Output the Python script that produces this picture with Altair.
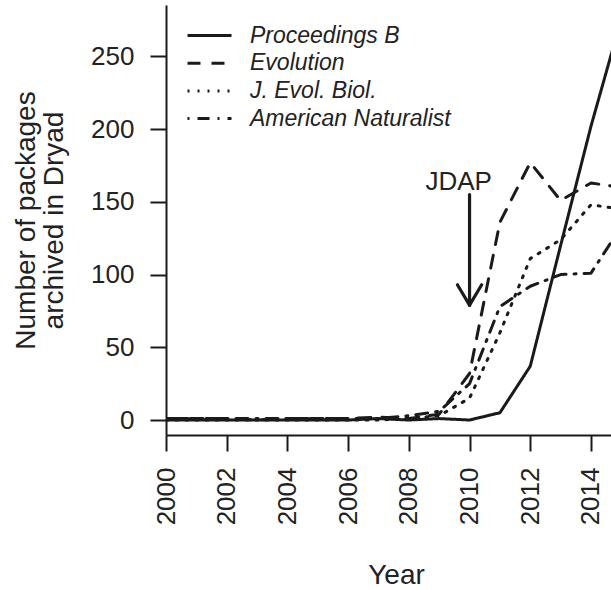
import altair as alt
import pandas as pd

years = list(range(2000, 2016))
journals = ["Proceedings B", "Evolution", "J. Evol. Biol.", "American Naturalist"]
proc_b = [0, 0, 0, 0, 0, 0, 0, 1, 0, 1, 0, 5, 37, 120, 202, 276]
evolution = [1, 1, 1, 0, 1, 1, 1, 2, 1, 4, 32, 136, 177, 151, 163, 160]
jeb = [0, 0, 0, 0, 0, 0, 0, 0, 1, 3, 15, 60, 111, 124, 148, 145]
amnat = [1, 1, 1, 1, 1, 1, 1, 1, 3, 6, 25, 78, 92, 100, 101, 133]
x_ticks = list(range(2000, 2015, 2))
y_ticks = [0, 50, 100, 150, 200, 250]

# annotation (JDAP arrow) in data units
jdap_year = 2010
jdap_text_x = [2009.64]
jdap_text_y = [158]
arrow_top = 155
arrow_tip = 79
head_y = 93
head_dx = 0.4

series = {"Proceedings B": proc_b, "Evolution": evolution,
          "J. Evol. Biol.": jeb, "American Naturalist": amnat}
rows = []
for j in journals:
    for yr, v in zip(years, series[j]):
        rows.append({"year": yr, "count": v, "journal": j})
df = pd.DataFrame(rows)

FONT = "Liberation Sans"
INK = "#1a1a1a"
xscale = alt.Scale(domain=[2000, 2014.66], nice=False, zero=False)
yscale = alt.Scale(domain=[-10.3, 285.4], nice=False, zero=False)

lines = alt.Chart(df).mark_line(
    color=INK, strokeWidth=3, strokeCap="round", strokeJoin="round", clip=True
).encode(
    x=alt.X("year:Q", scale=xscale,
            axis=alt.Axis(values=x_ticks, format="d", labelAngle=270, tickSize=16,
                          labelPadding=16, title="Year", titleX=230, titleY=148,
                          titleBaseline="alphabetic", titleAlign="center")),
    y=alt.Y("count:Q", scale=yscale,
            axis=alt.Axis(values=y_ticks, tickSize=16, labelPadding=16,
                          title=["Number of packages", "archived in Dryad"],
                          titleX=-132, titleY=215, titleAngle=270,
                          titleAlign="center", titleBaseline="alphabetic",
                          titleLineHeight=28)),
    strokeDash=alt.StrokeDash(
        "journal:N",
        scale=alt.Scale(domain=journals,
                        range=[[1, 0], [13, 11], [2, 8], [2, 8, 12, 8]]),
        legend=alt.Legend(title=None, orient="none", legendX=20, legendY=18,
                          symbolType="M-1,0H3", symbolSize=484,
                          symbolStrokeWidth=3, symbolStrokeColor=INK,
                          labelFontSize=23, labelFontStyle="italic", labelFont=FONT,
                          labelColor="#222222", labelOffset=39, rowPadding=2.7,
                          labelLimit=0, padding=0),
    ),
    order="journal:N",
)

shaft = pd.DataFrame({"x": [jdap_year], "x2": [jdap_year], "y": [arrow_top], "y2": [arrow_tip]})
head = pd.DataFrame({"x": [jdap_year - head_dx, jdap_year + head_dx],
                     "x2": [jdap_year, jdap_year],
                     "y": [head_y, head_y], "y2": [arrow_tip, arrow_tip]})
arrow_df = pd.concat([shaft, head])
arrow = alt.Chart(arrow_df).mark_rule(color=INK, strokeWidth=3.2, strokeCap="round").encode(
    x=alt.X("x:Q", scale=xscale), x2="x2:Q",
    y=alt.Y("y:Q", scale=yscale), y2="y2:Q")

label_df = pd.DataFrame({"x": jdap_text_x, "y": jdap_text_y, "t": ["JDAP"]})
label = alt.Chart(label_df).mark_text(
    fontSize=26, font=FONT, color="#222222", align="center", baseline="alphabetic"
).encode(x=alt.X("x:Q", scale=xscale), y=alt.Y("y:Q", scale=yscale), text="t:N")

chart = alt.layer(lines, arrow, label).properties(
    width=445, height=430,
    autosize=alt.AutoSizeParams(type="none"),
    padding={"left": 166, "top": 5, "right": 0, "bottom": 155},
).configure(background="white").configure_view(stroke=None).configure_axis(
    grid=False, domainColor=INK, domainWidth=2, tickColor=INK, tickWidth=2,
    labelFont=FONT, labelFontSize=26, labelColor="#222222",
    titleFont=FONT, titleFontSize=28, titleFontWeight="normal", titleColor="#222222",
).configure_legend(symbolStrokeWidth=3, symbolStrokeColor=INK)

chart.save("out.html", embed_options={"renderer": "svg", "actions": False})
